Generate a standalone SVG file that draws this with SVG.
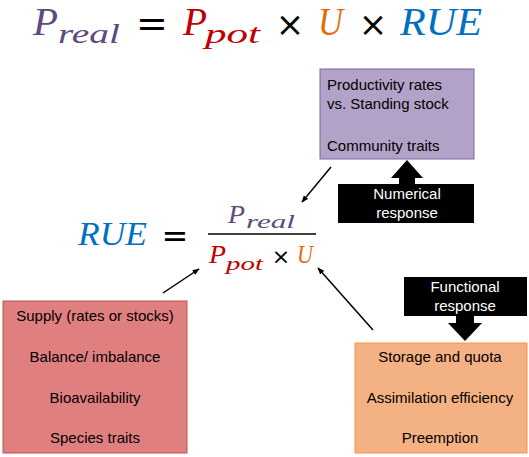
<svg xmlns="http://www.w3.org/2000/svg" width="529" height="457" viewBox="0 0 529 457">
<style>
.m{font-family:"Liberation Serif","DejaVu Serif",serif;font-style:italic}
.op{font-family:"DejaVu Sans","Liberation Sans",sans-serif;fill:#000}
.t{font-family:"Liberation Sans",Arial,sans-serif;font-size:15px;fill:#000}
.w{font-family:"Liberation Sans",Arial,sans-serif;font-size:15px;fill:#fff;text-anchor:middle}
.c{text-anchor:middle}
.pu{fill:#5F4A80}.re{fill:#C00000}.or{fill:#E46C0A}.bl{fill:#0070C0}
.ln{stroke:#000;stroke-width:1.5;fill:none}
</style>
<defs>
<marker id="ah" viewBox="0 0 10 10" refX="9" refY="5" markerWidth="7" markerHeight="7" orient="auto" markerUnits="userSpaceOnUse">
<path d="M0,1 L10,5 L0,9 z" fill="#000"/>
</marker>
</defs>
<g id="eq-top">
<text class="m pu" x="33" y="35" font-size="40" textLength="25" lengthAdjust="spacingAndGlyphs">P</text>
<text class="m pu" x="58" y="43" font-size="28" textLength="62" lengthAdjust="spacingAndGlyphs">real</text>
<text class="op c" x="152" y="36" font-size="38">=</text>
<text class="m re" x="183" y="35" font-size="40" textLength="24" lengthAdjust="spacingAndGlyphs">P</text>
<text class="m re" x="205" y="43" font-size="28" textLength="55" lengthAdjust="spacingAndGlyphs">pot</text>
<text class="op c" x="290" y="36" font-size="34">×</text>
<text class="m or" x="318" y="35" font-size="40" textLength="25" lengthAdjust="spacingAndGlyphs">U</text>
<text class="op c" x="373" y="36" font-size="34">×</text>
<text class="m bl" x="400" y="35" font-size="40" textLength="82" lengthAdjust="spacingAndGlyphs">RUE</text>
</g>
<g id="eq-rue">
<text class="m bl" x="78" y="245" font-size="33" textLength="69" lengthAdjust="spacingAndGlyphs">RUE</text>
<text class="op c" x="175" y="247" font-size="32">=</text>
<text class="m pu" x="228" y="223" font-size="25" textLength="17" lengthAdjust="spacingAndGlyphs">P</text>
<text class="m pu" x="246" y="228" font-size="18" textLength="49" lengthAdjust="spacingAndGlyphs">real</text>
<line x1="208" y1="234" x2="316" y2="234" stroke="#000" stroke-width="1.5"/>
<text class="m re" x="209" y="263" font-size="25" textLength="17" lengthAdjust="spacingAndGlyphs">P</text>
<text class="m re" x="226" y="270" font-size="18" textLength="37" lengthAdjust="spacingAndGlyphs">pot</text>
<text class="op c" x="281" y="264" font-size="22">×</text>
<text class="m or" x="297" y="263" font-size="25" textLength="16" lengthAdjust="spacingAndGlyphs">U</text>
</g>
<g id="box-community">
<rect x="320" y="69" width="154" height="90" fill="#B3A2C7" stroke="#8064A2" stroke-width="1"/>
<text class="t" x="327" y="90">Productivity rates</text>
<text class="t" x="327" y="109">vs. Standing stock</text>
<text class="t" x="327" y="151">Community traits</text>
</g>
<g id="numerical-response">
<path d="M407,160 L423,178 L415,178 L415,185 L399,185 L399,178 L391,178 z" fill="#000"/>
<rect x="338" y="184" width="136" height="39" fill="#000"/>
<text class="w" x="407" y="199">Numerical</text>
<text class="w" x="407" y="218">response</text>
</g>
<g id="box-supply">
<rect x="3" y="301" width="184" height="152" fill="#E07F7F" stroke="#C0504D" stroke-width="1"/>
<text class="t c" x="95" y="321">Supply (rates or stocks)</text>
<text class="t c" x="95" y="362">Balance/ imbalance</text>
<text class="t c" x="95" y="403">Bioavailability</text>
<text class="t c" x="95" y="443">Species traits</text>
</g>
<g id="functional-response">
<rect x="404" y="277" width="123" height="39" fill="#000"/>
<text class="w" x="465" y="292">Functional</text>
<text class="w" x="465" y="311">response</text>
<path d="M456,315 L474,315 L474,323 L482,323 L465,341 L448,323 L456,323 z" fill="#000"/>
</g>
<g id="box-assimilation">
<rect x="355" y="343" width="172" height="110" fill="#F4B183" stroke="#F79646" stroke-width="1"/>
<text class="t c" x="440" y="362">Storage and quota</text>
<text class="t c" x="440" y="403">Assimilation efficiency</text>
<text class="t c" x="440" y="443">Preemption</text>
</g>
<g id="connectors">
<line class="ln" x1="331" y1="167" x2="302" y2="202" marker-end="url(#ah)"/>
<line class="ln" x1="163" y1="293" x2="199" y2="269" marker-end="url(#ah)"/>
<line class="ln" x1="373" y1="330" x2="318" y2="268" marker-end="url(#ah)"/>
</g>
</svg>
